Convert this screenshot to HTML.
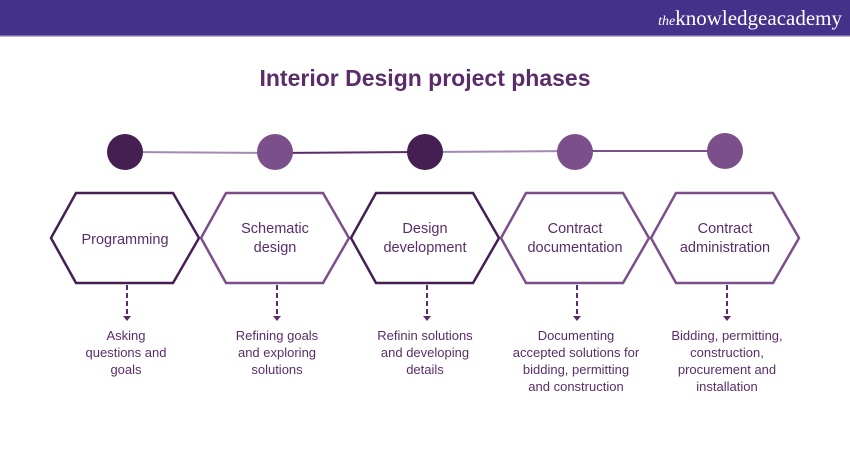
<!DOCTYPE html>
<html><head><style>
body{margin:0;width:850px;height:450px;background:#fff;overflow:hidden;font-family:"Liberation Sans",sans-serif}
</style></head><body>
<svg width="850" height="450" xmlns="http://www.w3.org/2000/svg" font-family="Liberation Sans, sans-serif">
<rect x="0" y="0" width="850" height="36" fill="#44318a"/>
<rect x="0" y="35" width="850" height="1.5" fill="#7a6aa8"/>
<text x="842" y="25" text-anchor="end" fill="#fff" font-family="Liberation Serif, serif" font-size="21"><tspan font-style="italic" font-size="14">the</tspan>knowledgeacademy</text>
<text x="425" y="86" text-anchor="middle" fill="#5a2d6a" font-size="23" font-weight="bold">Interior Design project phases</text>
<line x1="125" y1="152" x2="275" y2="153" stroke="#a48ab0" stroke-width="2"/>
<line x1="275" y1="153" x2="425" y2="152" stroke="#5a2d6a" stroke-width="2"/>
<line x1="425" y1="152" x2="575" y2="151" stroke="#a48ab0" stroke-width="2"/>
<line x1="575" y1="151" x2="725" y2="151" stroke="#7b4f8a" stroke-width="2"/>
<g>
<ellipse cx="125" cy="152" rx="18" ry="18" fill="#461f52"/>
<ellipse cx="275" cy="152" rx="18" ry="18" fill="#7b4f8a"/>
<ellipse cx="425" cy="152" rx="18" ry="18" fill="#461f52"/>
<ellipse cx="575" cy="152" rx="18" ry="18" fill="#7b4f8a"/>
<ellipse cx="725" cy="151" rx="18" ry="18" fill="#7b4f8a"/>
</g>
<g fill="none" stroke-width="2.5">
<polygon points="51,238 76,193 173,193 199,238 173,283 76,283" stroke="#461f52"/>
<polygon points="201,238 226,193 323,193 349,238 323,283 226,283" stroke="#7b4f8a"/>
<polygon points="351,238 376,193 473,193 499,238 473,283 376,283" stroke="#461f52"/>
<polygon points="501,238 526,193 623,193 649,238 623,283 526,283" stroke="#7b4f8a"/>
<polygon points="651,238 676,193 773,193 799,238 773,283 676,283" stroke="#7b4f8a"/>
</g>
<g stroke="#5a2d6a" stroke-width="2" stroke-dasharray="5,3">
<line x1="127" y1="285" x2="127" y2="318"/><line x1="277" y1="285" x2="277" y2="318"/>
<line x1="427" y1="285" x2="427" y2="318"/><line x1="577" y1="285" x2="577" y2="318"/>
<line x1="727" y1="285" x2="727" y2="318"/>
</g>
<g fill="#5a2d6a">
<polygon points="123,316 131,316 127,321"/><polygon points="273,316 281,316 277,321"/>
<polygon points="423,316 431,316 427,321"/><polygon points="573,316 581,316 577,321"/>
<polygon points="723,316 731,316 727,321"/>
</g>
<g fill="#5a2d6a" font-size="14.5" text-anchor="middle">
<text x="125" y="244">Programming</text>
<text x="275" y="233">Schematic</text><text x="275" y="252">design</text>
<text x="425" y="233">Design</text><text x="425" y="252">development</text>
<text x="575" y="233">Contract</text><text x="575" y="252">documentation</text>
<text x="725" y="233">Contract</text><text x="725" y="252">administration</text>
</g>
<g fill="#5a2d6a" font-size="13" text-anchor="middle">
<text x="126" y="340">Asking</text><text x="126" y="357">questions and</text><text x="126" y="374">goals</text>
<text x="277" y="340">Refining goals</text><text x="277" y="357">and exploring</text><text x="277" y="374">solutions</text>
<text x="425" y="340">Refinin solutions</text><text x="425" y="357">and developing</text><text x="425" y="374">details</text>
<text x="576" y="340">Documenting</text><text x="576" y="357">accepted solutions for</text><text x="576" y="374">bidding, permitting</text><text x="576" y="391">and construction</text>
<text x="727" y="340">Bidding, permitting,</text><text x="727" y="357">construction,</text><text x="727" y="374">procurement and</text><text x="727" y="391">installation</text>
</g>
</svg>
</body></html>
